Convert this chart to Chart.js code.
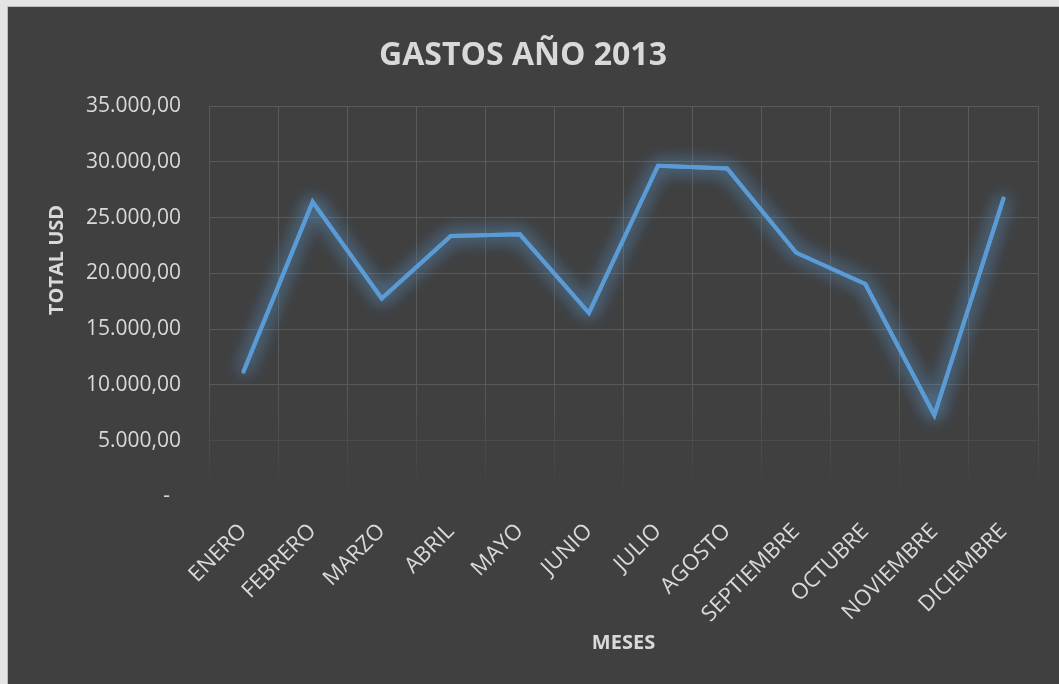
<!DOCTYPE html>
<html>
<head>
<meta charset="utf-8">
<script src="https://cdn.jsdelivr.net/npm/chart.js@4"></script>
<style>
  html, body { margin: 0; padding: 0; background: #e4e4e4; }
  #wrap {
    position: absolute; left: 7px; top: 6px;
    width: 1052px; height: 678px;
    border-left: 1px solid #bdbdbd; border-top: 1px solid #bdbdbd;
    background: #404040;
  }
  canvas { display: block; }
</style>
</head>
<body>
<div id="wrap"><canvas id="gastos" width="1051" height="677"></canvas></div>
<script>
// data
const meses = ['ENERO', 'FEBRERO', 'MARZO', 'ABRIL', 'MAYO', 'JUNIO', 'JULIO',
  'AGOSTO', 'SEPTIEMBRE', 'OCTUBRE', 'NOVIEMBRE', 'DICIEMBRE'];
const gastos = [11200, 26400, 17750, 23350, 23500, 16450, 29650, 29400, 21850, 19050, 7300, 26700];
const yTicks = [0, 5000, 10000, 15000, 20000, 25000, 30000, 35000];

const TEXT = '#d9d9d9';
const GRID = '#5a5a5a';
const FONT = "'Open Sans', sans-serif";

// 35000 -> "35.000,00", 0 -> "-"
function formatUsd(v) {
  if (v === 0) return '-  ';
  const ent = Math.floor(v).toString().replace(/\B(?=(\d{3})+(?!\d))/g, '.');
  return ent + ',00';
}

// grid fades out towards the bottom of the plot
function gridColor(ctx) {
  const area = ctx.chart.chartArea;
  if (!area) return GRID;
  const g = ctx.chart.ctx.createLinearGradient(0, area.top, 0, area.bottom);
  g.addColorStop(0, GRID);
  g.addColorStop(0.7, GRID);
  g.addColorStop(1, 'rgba(90,90,90,0)');
  return g;
}

// soft blue halo round the line, like the Excel glow effect
const glowPlugin = {
  id: 'glow',
  beforeDatasetsDraw(chart) {
    const ctx = chart.ctx;
    ctx.save();
    ctx.shadowColor = 'rgba(91,155,213,0.9)';
    ctx.shadowBlur = 18;
  },
  afterDatasetsDraw(chart) {
    // second pass makes the halo a bit stronger
    chart.getDatasetMeta(0).dataset.draw(chart.ctx, chart.chartArea);
    chart.ctx.restore();
  }
};

// y title sits higher than the plot centre in the original
const yTitlePlugin = {
  id: 'yTitle',
  afterDraw(chart) {
    const ctx = chart.ctx;
    ctx.save();
    ctx.translate(49, 253);
    ctx.rotate(-Math.PI / 2);
    ctx.fillStyle = TEXT;
    ctx.font = 'bold 20px ' + FONT;
    ctx.textAlign = 'center';
    ctx.textBaseline = 'middle';
    ctx.fillText('TOTAL USD', 0, 0);
    ctx.restore();
  }
};

new Chart(document.getElementById('gastos'), {
  type: 'line',
  data: {
    labels: meses,
    datasets: [{
      label: 'Gastos',
      data: gastos,
      borderColor: '#5b9bd5',
      borderWidth: 4,
      tension: 0,
      pointRadius: 0,
      borderCapStyle: 'round',
      borderJoinStyle: 'miter',
      fill: false
    }]
  },
  options: {
    responsive: false,
    animation: false,
    layout: { padding: { left: 0, right: 21, top: 0, bottom: 0 } },
    plugins: {
      legend: { display: false },
      tooltip: { enabled: false },
      title: {
        display: true,
        text: 'GASTOS AÑO 2013',
        color: TEXT,
        font: { family: FONT, size: 32, weight: 'bold' },
        padding: { top: 30, bottom: 30.6 }
      }
    },
    scales: {
      x: {
        offset: true,
        grid: { offset: true, color: gridColor, lineWidth: 1, drawTicks: false },
        border: { display: false },
        ticks: {
          color: TEXT,
          font: { family: FONT, size: 22 },
          autoSkip: false,
          maxRotation: 45,
          minRotation: 45,
          padding: 22
        },
        title: {
          display: true,
          text: 'MESES',
          color: TEXT,
          font: { family: FONT, size: 20, weight: 'bold' },
          padding: { top: 0, bottom: 29 }
        },
        afterFit(scale) { scale.height = 187.5; }
      },
      y: {
        min: 0,
        max: 35000,
        afterBuildTicks(scale) { scale.ticks = yTicks.map(v => ({ value: v })); },
        grid: { color: gridColor, lineWidth: 1, drawTicks: false },
        border: { display: false },
        ticks: {
          color: TEXT,
          font: { family: FONT, size: 21 },
          padding: 28,
          callback: v => formatUsd(v)
        },
        afterFit(scale) { scale.width = 201; }
      }
    }
  },
  plugins: [glowPlugin, yTitlePlugin]
});
</script>
</body>
</html>
